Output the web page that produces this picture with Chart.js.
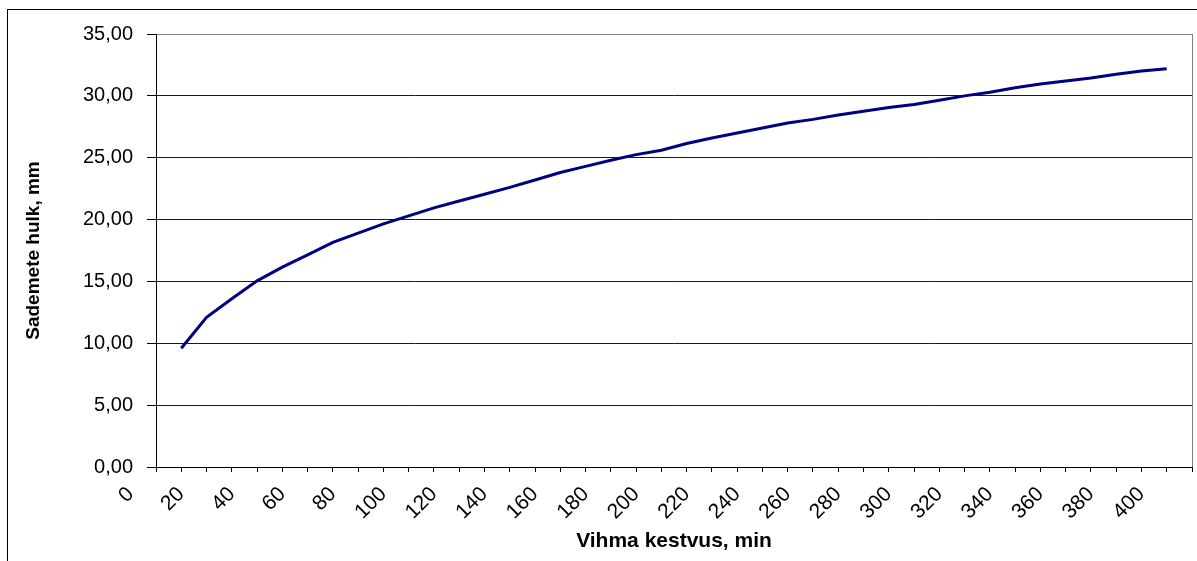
<!DOCTYPE html>
<html>
<head>
<meta charset="utf-8">
<script src="https://cdn.jsdelivr.net/npm/chart.js@4.4.1/dist/chart.umd.min.js"></script>
<style>
  html, body { margin: 0; padding: 0; background: #fff; overflow: hidden; }
  #frame { position: absolute; left: 7px; top: 9px; width: 1300px; height: 700px; border-left: 1px solid #000; border-top: 1px solid #000; }
  #wrap { position: absolute; left: 0; top: 0; width: 1197px; height: 561px; }
</style>
</head>
<body>
<div id="frame"></div>
<div id="wrap"><canvas id="c"></canvas></div>
<script>
// Rain duration (min) and precipitation amount (mm)
const durations = [20, 30, 40, 50, 60, 70, 80, 90, 100, 110, 120, 130, 140, 150, 160, 170, 180, 190, 200, 210,
                   220, 230, 240, 250, 260, 270, 280, 290, 300, 310, 320, 330, 340, 350, 360, 370, 380, 390, 400, 410];
const amounts = [9.6, 12.1, 13.6, 15.05, 16.15, 17.15, 18.15, 18.9, 19.65, 20.3,
                 20.95, 21.5, 22.05, 22.6, 23.2, 23.8, 24.3, 24.8, 25.25, 25.6,
                 26.15, 26.6, 27.0, 27.4, 27.8, 28.1, 28.45, 28.75, 29.05, 29.3,
                 29.65, 30.0, 30.3, 30.65, 30.95, 31.2, 31.45, 31.75, 32.0, 32.2];
const xTickLabels = [0, 20, 40, 60, 80, 100, 120, 140, 160, 180, 200, 220, 240, 260, 280, 300, 320, 340, 360, 380, 400];
const yTicks = [0, 5, 10, 15, 20, 25, 30, 35];
const xMin = 10, xMax = 420, xStep = 10;

const points = durations.map((d, i) => ({ x: d, y: amounts[i] }));

new Chart(document.getElementById('c'), {
  type: 'line',
  data: {
    datasets: [{
      data: points,
      borderColor: '#000080',
      borderWidth: 3,
      pointRadius: 0,
      tension: 0,
      fill: false
    }]
  },
  options: {
    responsive: true,
    maintainAspectRatio: false,
    animation: false,
    layout: { padding: { left: 0, top: 34, right: 5, bottom: 0 } },
    plugins: { legend: { display: false }, tooltip: { enabled: false } },
    scales: {
      x: {
        type: 'linear',
        min: xMin,
        max: xMax,
        afterBuildTicks: (scale) => {
          const t = [{ value: 0 }];
          for (let v = xMin; v <= xMax; v += xStep) t.push({ value: v });
          scale.ticks = t;
        },
        afterFit: (scale) => { scale.height = 94; scale.paddingLeft = 0; scale.paddingRight = 0; },
        ticks: {
          autoSkip: false,
          maxRotation: 45,
          minRotation: 45,
          padding: 10,
          color: '#000',
          font: { family: "'Liberation Sans', Arial, sans-serif", size: 21 },
          callback: (v) => xTickLabels.includes(v) ? String(v) : ''
        },
        grid: {
          drawOnChartArea: true,
          color: (ctx) => (ctx.tick && ctx.tick.value === xMax) ? '#808080' : 'transparent',
          tickColor: (ctx) => (ctx.tick && ctx.tick.value === 0) ? 'transparent' : '#000',
          tickLength: 5,
          lineWidth: 1
        },
        border: { display: true, color: '#000', width: 1 },
        title: {
          display: true,
          text: 'Vihma kestvus, min',
          color: '#000',
          font: { family: "'Liberation Sans', Arial, sans-serif", size: 21, weight: 'bold' },
          padding: { top: 0, bottom: 7 }
        }
      },
      y: {
        min: 0,
        max: 35,
        afterBuildTicks: (scale) => { scale.ticks = yTicks.map(v => ({ value: v })); },
        afterFit: (scale) => { scale.width = 156; scale.paddingTop = 0; scale.paddingBottom = 0; },
        ticks: {
          padding: 14,
          color: '#000',
          font: { family: "'Liberation Sans', Arial, sans-serif", size: 20 },
          callback: (v) => v.toFixed(2).replace('.', ',')
        },
        grid: {
          color: (ctx) => (ctx.tick && ctx.tick.value === 35) ? '#808080' : '#1a1a1a',
          tickColor: '#000',
          tickLength: 9,
          lineWidth: 1
        },
        border: { display: true, color: '#000', width: 1 },
        title: {
          display: true,
          text: 'Sademete hulk, mm',
          color: '#000',
          font: { family: "'Liberation Sans', Arial, sans-serif", size: 19, weight: 'bold' },
          padding: { top: 22, bottom: 0 }
        }
      }
    }
  }
});
</script>
</body>
</html>
